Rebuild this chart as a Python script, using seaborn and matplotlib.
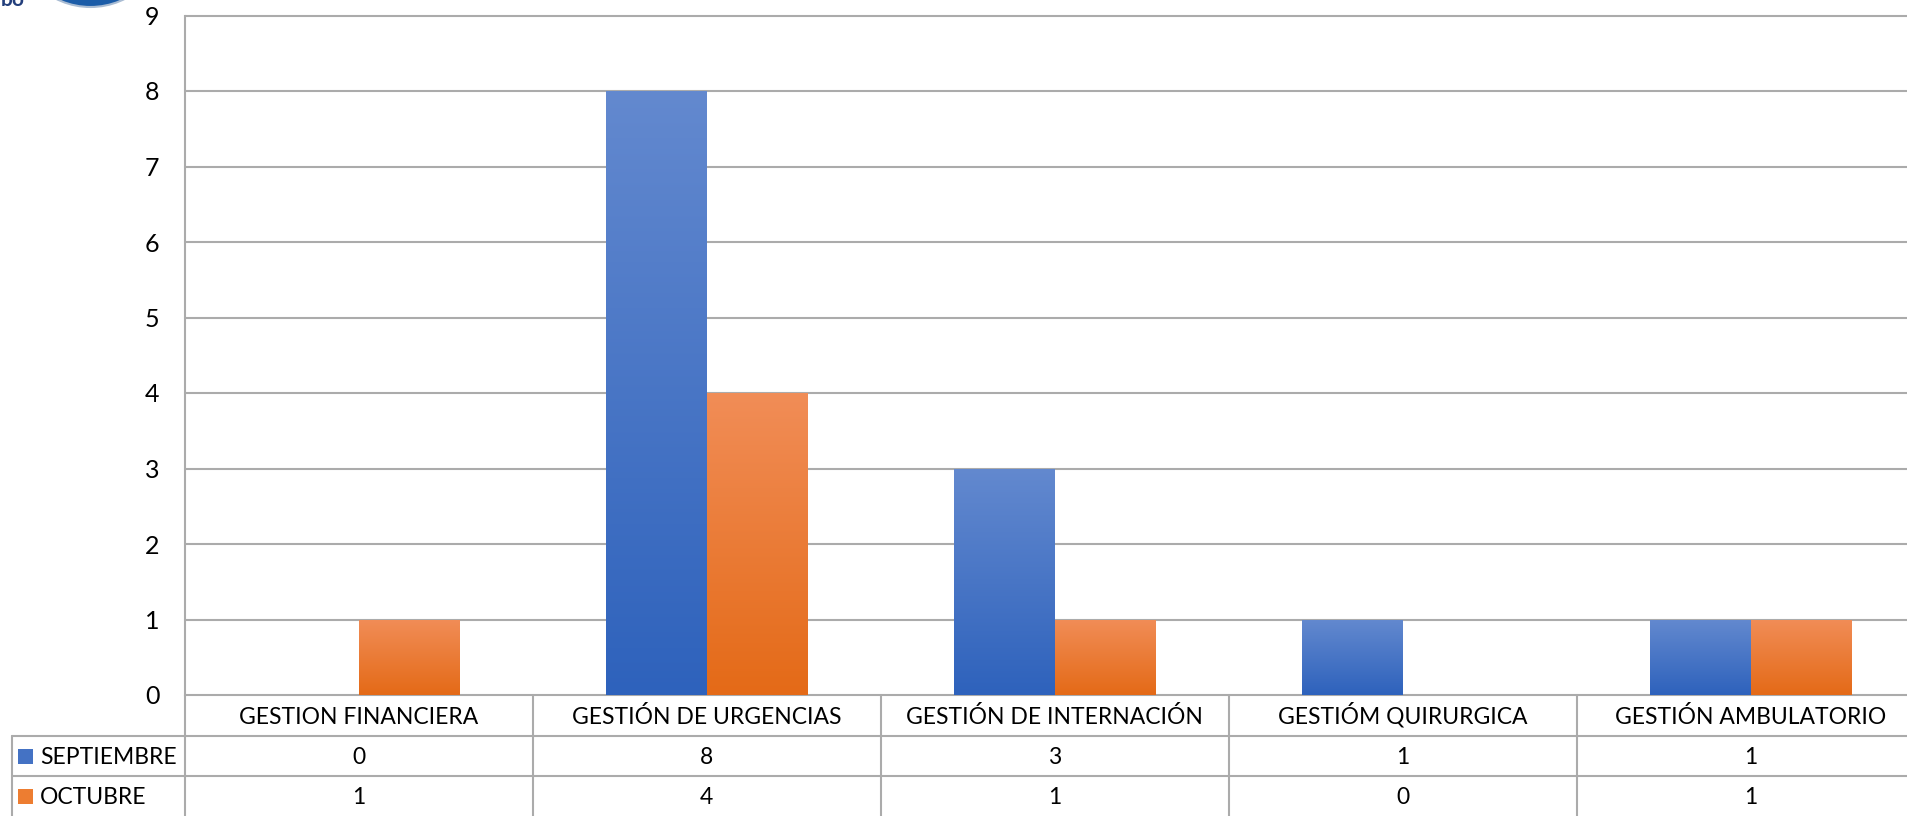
import numpy as np
import pandas as pd
import matplotlib
matplotlib.use("Agg")
import matplotlib.pyplot as plt
import seaborn as sns
from matplotlib.colors import LinearSegmentedColormap
from matplotlib.patches import Circle, Rectangle
from matplotlib.transforms import blended_transform_factory

# ---- data -------------------------------------------------------------
categories = [
    "GESTION FINANCIERA",
    "GESTIÓN DE URGENCIAS",
    "GESTIÓN DE INTERNACIÓN",
    "GESTIÓM QUIRURGICA",
    "GESTIÓN AMBULATORIO",
]
series_names = ["SEPTIEMBRE", "OCTUBRE"]
septiembre = [0, 8, 3, 1, 1]
octubre = [1, 4, 1, 0, 1]
y_ticks = [0, 1, 2, 3, 4, 5, 6, 7, 8, 9]

# ---- style ------------------------------------------------------------
sns.set_theme(style="white")
plt.rcParams["font.family"] = ["Lato", "DejaVu Sans"]

W, H = 1908, 816
fig = plt.figure(figsize=(W / 100, H / 100), dpi=100)
fig.patch.set_facecolor("white")

AX_LEFT, AX_TOP, AX_BOTTOM, COL_W = 184.5, 15.5, 695.0, 348.0
ax = fig.add_axes([AX_LEFT / W, 1 - AX_BOTTOM / H,
                   5 * COL_W / W, (AX_BOTTOM - AX_TOP) / H])

swatch = {"SEPTIEMBRE": "#4472C4", "OCTUBRE": "#ED7D31"}
grad = {
    "SEPTIEMBRE": ("#2E62BC", "#6389CF"),   # bottom, top
    "OCTUBRE": ("#E46A17", "#F18D57"),
}
grid_col = "#ABABAB"
TABLE_FS = 16.5
BASE_DROP = 8.0   # px from a row's middle down to the text baseline

df = pd.DataFrame({
    "categoria": categories * 2,
    "mes": [series_names[0]] * len(categories) + [series_names[1]] * len(categories),
    "valor": septiembre + octubre,
})

sns.barplot(data=df, x="categoria", y="valor", hue="mes",
            order=categories, hue_order=series_names, palette=swatch,
            width=0.575, gap=0, saturation=1, legend=False,
            edgecolor="none", linewidth=0, ax=ax, zorder=3)

# vertical gradient fill for every bar, clipped to the bar shape
ramp = np.linspace(0, 1, 256).reshape(-1, 1)
for name, cont in zip(series_names, ax.containers):
    cmap = LinearSegmentedColormap.from_list(name, list(grad[name]))
    for bar in cont:
        h = bar.get_height()
        if h <= 0:
            bar.set_visible(False)
            continue
        x0 = bar.get_x()
        im = ax.imshow(ramp, cmap=cmap, origin="lower", aspect="auto",
                       extent=[x0, x0 + bar.get_width(), 0, h],
                       zorder=3.5, interpolation="bilinear")
        im.set_clip_path(bar)

ax.set_xlim(-0.5, len(categories) - 0.5)
ax.set_ylim(0, 9)
ax.set_yticks(y_ticks)
ax.set_xticks([])
ax.set_xlabel("")
ax.set_ylabel("")
ax.tick_params(axis="y", length=0, pad=18, labelsize=18, labelcolor="black")
ax.grid(axis="y", color=grid_col, linewidth=1.5)
for gl in ax.get_ygridlines():
    gl.set_clip_on(False)
ax.set_axisbelow(True)
for side in ("top", "right", "bottom"):
    ax.spines[side].set_visible(False)
ax.spines["left"].set_color(grid_col)
ax.spines["left"].set_linewidth(1.5)

# ---- data table under the plot ---------------------------------------
tr = blended_transform_factory(ax.transData, fig.transFigure)
fy = lambda px: 1 - px / H
row_edges = [695.0, 736.0, 776.0, 816.0]
label_left = ax.transData.inverted().transform(
    fig.transFigure.transform((12 / W, 0)))[0]
x_right = len(categories) - 0.5

line_kw = dict(color=grid_col, linewidth=1.5, clip_on=False, transform=tr)
for k in range(len(categories) + 1):
    ax.plot([k - 0.5, k - 0.5], [fy(row_edges[0]), fy(row_edges[-1])], **line_kw)
ax.plot([label_left, label_left], [fy(row_edges[1]), fy(row_edges[-1])], **line_kw)
for y in row_edges[1:3]:
    ax.plot([label_left, x_right], [fy(y), fy(y)], **line_kw)

txt_kw = dict(ha="center", va="baseline", fontsize=TABLE_FS,
              color="black", transform=tr, clip_on=False)
head_mid = (row_edges[0] + row_edges[1]) / 2
for i, cat in enumerate(categories):
    ax.text(i, fy(head_mid + BASE_DROP), cat, **txt_kw)
for r, (name, vals) in enumerate(zip(series_names, [septiembre, octubre])):
    yc = (row_edges[r + 1] + row_edges[r + 2]) / 2
    for i, v in enumerate(vals):
        ax.text(i, fy(yc + BASE_DROP), str(v), **txt_kw)
    fig.add_artist(Rectangle((18 / W, fy(yc + 7.5)), 15 / W, 15 / H,
                             transform=fig.transFigure,
                             facecolor=swatch[name], edgecolor="none"))
    fig.text(40 / W, fy(yc + BASE_DROP), name, ha="left", va="baseline",
             fontsize=TABLE_FS, color="black")

# ---- logo fragment at the top-left corner -----------------------------
deco = fig.add_axes([0, 0, 1, 1], zorder=-1)
deco.set_xlim(0, W)
deco.set_ylim(H, 0)
deco.axis("off")
deco.patch.set_alpha(0)
deco.add_patch(Circle((90.5, -69.6), 76.6, facecolor="#1B5CA8",
                      edgecolor="#A9BCD3", linewidth=1.5))
deco.text(1, 6, "bo", ha="left", va="baseline", fontsize=15,
          fontweight="bold", color="#233F7C")

fig.savefig("out.png", dpi=100)
